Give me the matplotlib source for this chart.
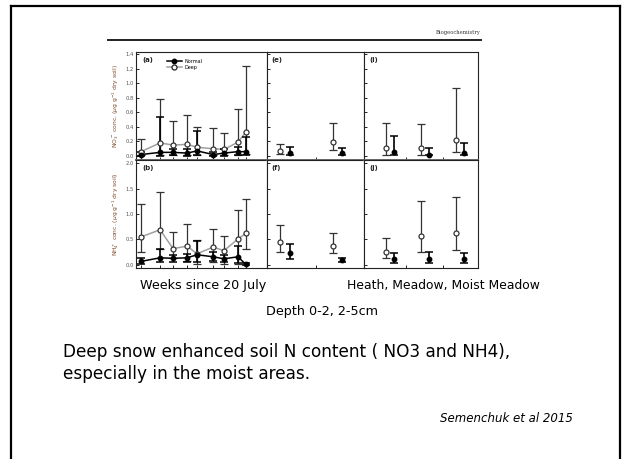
"""Slide: deep snow effect on soil N (Semenchuk et al 2015), re-drawn."""

import matplotlib

matplotlib.use("Agg")
import matplotlib.pyplot as plt
from matplotlib.lines import Line2D

plt.rcParams.update(
    {
        "font.family": ["DejaVu Sans"],
        "figure.facecolor": "white",
        "axes.linewidth": 0.8,
        "xtick.direction": "in",
        "ytick.direction": "in",
        "xtick.major.size": 2.0,
        "ytick.major.size": 2.0,
        "xtick.major.width": 0.6,
        "ytick.major.width": 0.6,
    }
)

W, H = 624, 459

# ---- data ----------------------------------------------------------------
weeks = [0.35, 1.65, 2.55, 3.5, 4.2, 5.3, 6.05, 7.0, 7.55]

# (a) NO3- by week
no3_deep = [0.06, 0.18, 0.15, 0.16, 0.12, 0.10, 0.09, 0.19, 0.33]
no3_deep_lo = [0.01, 0.02, 0.02, 0.02, 0.02, 0.01, 0.01, 0.02, 0.03]
no3_deep_hi = [0.23, 0.79, 0.48, 0.56, 0.40, 0.39, 0.31, 0.65, 1.24]
no3_norm = [0.02, 0.05, 0.05, 0.04, 0.07, 0.02, 0.04, 0.06, 0.06]
no3_norm_lo = [0.0, 0.0, 0.01, 0.0, 0.01, 0.0, 0.0, 0.01, 0.01]
no3_norm_hi = [0.06, 0.54, 0.10, 0.09, 0.34, 0.05, 0.09, 0.12, 0.26]

# (b) NH4+ by week
nh4_deep = [0.55, 0.69, 0.32, 0.37, 0.22, 0.35, 0.28, 0.51, 0.62]
nh4_deep_lo = [0.26, 0.31, 0.14, 0.08, 0.02, 0.05, 0.02, 0.02, 0.31]
nh4_deep_hi = [1.19, 1.44, 0.65, 0.81, 0.49, 0.71, 0.57, 1.08, 1.29]
nh4_norm = [0.07, 0.14, 0.13, 0.14, 0.20, 0.16, 0.12, 0.16, 0.01]
nh4_norm_lo = [0.02, 0.05, 0.05, 0.06, 0.05, 0.07, 0.05, 0.04, 0.0]
nh4_norm_hi = [0.14, 0.31, 0.20, 0.22, 0.47, 0.25, 0.20, 0.38, 0.03]

# (e)/(f) soil depth classes 0-2 and 2-5 cm
depth_pos = [0.37, 1.455]
depth_no3_deep = [0.07, 0.19]
depth_no3_deep_lo = [0.03, 0.08]
depth_no3_deep_hi = [0.17, 0.46]
depth_no3_norm = [0.04, 0.04]
depth_no3_norm_lo = [0.02, 0.02]
depth_no3_norm_hi = [0.13, 0.11]
depth_nh4_deep = [0.445, 0.37]
depth_nh4_deep_lo = [0.26, 0.24]
depth_nh4_deep_hi = [0.78, 0.62]
depth_nh4_norm = [0.23, 0.09]
depth_nh4_norm_lo = [0.11, 0.05]
depth_nh4_norm_hi = [0.41, 0.13]

# (i)/(j) habitats: heath, meadow, moist meadow
hab_pos = [0.75, 1.77, 2.78]
hab_no3_deep = [0.105, 0.105, 0.22]
hab_no3_deep_lo = [0.02, 0.02, 0.05]
hab_no3_deep_hi = [0.46, 0.44, 0.93]
hab_no3_norm = [0.06, 0.02, 0.04]
hab_no3_norm_lo = [0.02, 0.01, 0.01]
hab_no3_norm_hi = [0.27, 0.11, 0.18]
hab_nh4_deep = [0.255, 0.56, 0.62]
hab_nh4_deep_lo = [0.13, 0.26, 0.29]
hab_nh4_deep_hi = [0.53, 1.26, 1.33]
hab_nh4_norm = [0.12, 0.12, 0.12]
hab_nh4_norm_lo = [0.04, 0.04, 0.04]
hab_nh4_norm_hi = [0.23, 0.26, 0.23]

C = {
    "deep_line": "#a0a0a0",
    "tick": "#555555",
    "ylab": "#7a4b2c",
}


def px_axes(fig, x0, y0, x1, y1):
    return fig.add_axes([x0 / W, 1 - y1 / H, (x1 - x0) / W, (y1 - y0) / H])


def err(vals, lo, hi):
    return [[v - l for v, l in zip(vals, lo)], [h - v for v, h in zip(vals, hi)]]


def series(ax, x, vals, lo, hi, deep, line=True):
    if deep:
        ax.errorbar(x, vals, yerr=err(vals, lo, hi), fmt="none", ecolor="#333333",
                    elinewidth=0.9, capsize=2.6, capthick=0.9, zorder=3)
        if line:
            ax.plot(x, vals, color=C["deep_line"], lw=1.1, zorder=2)
        ax.plot(x, vals, ls="none", marker="o", ms=3.6, mfc="white", mec="#333333",
                mew=0.9, zorder=5)
    else:
        ax.errorbar(x, vals, yerr=err(vals, lo, hi), fmt="none", ecolor="black",
                    elinewidth=1.2, capsize=2.6, capthick=1.1, zorder=4)
        if line:
            ax.plot(x, vals, color="black", lw=1.1, zorder=4)
        ax.plot(x, vals, ls="none", marker="o", ms=3.2, mfc="black", mec="black", zorder=6)


def style(ax, ylim, yticks, labels, letter):
    ax.set_ylim(*ylim)
    ax.set_yticks(yticks)
    if labels:
        ax.set_yticklabels([f"{t:.1f}" for t in yticks], fontsize=3.8, color=C["tick"])
        ax.tick_params(axis="y", pad=1.5)
    else:
        ax.set_yticklabels([])
    ax.set_xticklabels([])
    ax.text(0.05, 0.95, letter, transform=ax.transAxes, ha="left", va="top",
            fontsize=5.0, fontweight="bold", color="#222222")
    for s in ax.spines.values():
        s.set_color("#222222")


fig = plt.figure(figsize=(W / 100, H / 100), dpi=100)

no3_lim, no3_ticks = (-0.055, 1.43), [0.0, 0.2, 0.4, 0.6, 0.8, 1.0, 1.2, 1.4]
nh4_lim, nh4_ticks = (-0.06, 2.06), [0.0, 0.5, 1.0, 1.5, 2.0]

ax_a = px_axes(fig, 136, 52, 267, 160)
ax_b = px_axes(fig, 136, 160, 267, 268)
ax_e = px_axes(fig, 267, 52, 364, 160)
ax_f = px_axes(fig, 267, 160, 364, 268)
ax_i = px_axes(fig, 364, 52, 478, 160)
ax_j = px_axes(fig, 364, 160, 478, 268)

# weekly panels
series(ax_a, weeks, no3_deep, no3_deep_lo, no3_deep_hi, True)
series(ax_a, weeks, no3_norm, no3_norm_lo, no3_norm_hi, False)
series(ax_b, weeks, nh4_deep, nh4_deep_lo, nh4_deep_hi, True)
series(ax_b, weeks, nh4_norm, nh4_norm_lo, nh4_norm_hi, False)
for ax in (ax_a, ax_b):
    ax.set_xlim(0, 9)
    ax.set_xticks(weeks)

# depth panels
off = 0.1
series(ax_e, [p - off for p in depth_pos], depth_no3_deep, depth_no3_deep_lo, depth_no3_deep_hi, True, False)
series(ax_e, [p + off for p in depth_pos], depth_no3_norm, depth_no3_norm_lo, depth_no3_norm_hi, False, False)
series(ax_f, [p - off for p in depth_pos], depth_nh4_deep, depth_nh4_deep_lo, depth_nh4_deep_hi, True, False)
series(ax_f, [p + off for p in depth_pos], depth_nh4_norm, depth_nh4_norm_lo, depth_nh4_norm_hi, False, False)
for ax in (ax_e, ax_f):
    ax.set_xlim(0, 2)
    ax.set_xticks([1.0])

# habitat panels
off = 0.115
series(ax_i, [p - off for p in hab_pos], hab_no3_deep, hab_no3_deep_lo, hab_no3_deep_hi, True, False)
series(ax_i, [p + off for p in hab_pos], hab_no3_norm, hab_no3_norm_lo, hab_no3_norm_hi, False, False)
series(ax_j, [p - off for p in hab_pos], hab_nh4_deep, hab_nh4_deep_lo, hab_nh4_deep_hi, True, False)
series(ax_j, [p + off for p in hab_pos], hab_nh4_norm, hab_nh4_norm_lo, hab_nh4_norm_hi, False, False)
for ax in (ax_i, ax_j):
    ax.set_xlim(0, 3.3)
    ax.set_xticks([1.22, 2.29])

style(ax_a, no3_lim, no3_ticks, True, "(a)")
style(ax_e, no3_lim, no3_ticks, False, "(e)")
style(ax_i, no3_lim, no3_ticks, False, "(i)")
style(ax_b, nh4_lim, nh4_ticks, True, "(b)")
style(ax_f, nh4_lim, nh4_ticks, False, "(f)")
style(ax_j, nh4_lim, nh4_ticks, False, "(j)")

# row divider drawn a little heavier, as in the scan
for ax in (ax_a, ax_e, ax_i):
    ax.spines["bottom"].set_linewidth(1.4)
    ax.spines["bottom"].set_color("#666666")

ax_a.set_ylabel(r"NO$_3^-$ conc. ($\mu$g g$^{-1}$ dry soil)", fontsize=4.3, color=C["ylab"], labelpad=3)
ax_b.set_ylabel(r"NH$_4^+$ conc. ($\mu$g g$^{-1}$ dry soil)", fontsize=4.3, color=C["ylab"], labelpad=3)

handles = [
    Line2D([], [], color="black", lw=1.1, marker="o", ms=3.2, mfc="black", mec="black"),
    Line2D([], [], color=C["deep_line"], lw=1.1, marker="o", ms=3.6, mfc="white", mec="#333333"),
]
ax_a.legend(handles, ["Normal", "Deep"], loc="upper left", bbox_to_anchor=(0.2, 0.98),
            fontsize=3.5, frameon=False, handlelength=3.2, labelspacing=0.3, handletextpad=0.5)

# journal header
fig.add_artist(Line2D([108 / W, 481 / W], [1 - 40 / H, 1 - 40 / H], color="#222222", lw=1.4))
fig.text(481 / W, 1 - 35 / H, "Biogeochemistry", ha="right", va="bottom", fontsize=3.8,
         family="DejaVu Serif", color="#333333")

# slide frame
frame = dict(color="black", lw=1.6)
fig.add_artist(Line2D([11 / W, 11 / W], [0, 1 - 6 / H], **frame))
fig.add_artist(Line2D([11 / W, 620 / W], [1 - 6 / H, 1 - 6 / H], **frame))
fig.add_artist(Line2D([620 / W, 620 / W], [0, 1 - 6 / H], **frame))

# slide texts
fig.text(140 / W, 1 - 285 / H, "Weeks since 20 July", ha="left", va="center", fontsize=9.2)
fig.text(347 / W, 1 - 285 / H, "Heath, Meadow, Moist Meadow", ha="left", va="center", fontsize=8.9)
fig.text(322 / W, 1 - 312 / H, "Depth 0-2, 2-5cm", ha="center", va="center", fontsize=9.2)
fig.text(63 / W, 1 - 352 / H, "Deep snow enhanced soil N content ( NO3 and NH4),",
         ha="left", va="center", fontsize=12.2)
fig.text(63 / W, 1 - 374 / H, "especially in the moist areas.", ha="left", va="center", fontsize=12.2)
fig.text(573 / W, 1 - 419 / H, "Semenchuk et al 2015", ha="right", va="center", fontsize=8.5,
         style="italic")

fig.savefig("out.png", dpi=100)
plt.close(fig)
